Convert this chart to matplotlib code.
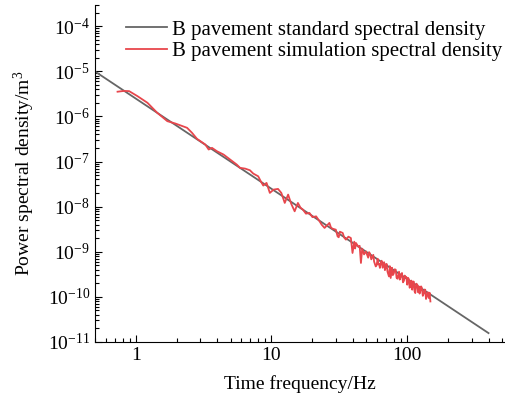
import matplotlib
matplotlib.use("Agg")
import matplotlib.pyplot as plt
from matplotlib.ticker import FuncFormatter
import numpy as np

plt.rcParams['font.family'] = ['Liberation Serif', 'DejaVu Serif']
plt.rcParams['mathtext.fontset'] = 'custom'
plt.rcParams['mathtext.rm'] = 'Liberation Serif'
plt.rcParams['mathtext.it'] = 'Liberation Serif:italic'

# standard spectral density (end points of straight line on log-log)
std_freq = [0.5, 400]
std_psd = [1.0e-5, 1.56e-11]

# simulated spectral density (frequency Hz, log10 PSD)
sim_freq = [0.734, 0.817, 0.893, 1.03, 1.22, 1.44, 1.71, 1.96, 2.39, 2.60,
            2.83, 3.26, 3.45, 3.65, 3.97, 4.19, 4.44, 4.97, 5.56, 5.88,
            6.40, 6.95, 7.36, 8.00, 8.38, 8.72, 9.22, 9.75, 10.4, 11.2,
            11.85, 12.56, 13.3, 14.0, 14.86, 15.7, 16.4, 17.1, 18.0, 19.1,
            20.1, 21.4, 22.7, 23.5, 24.7, 26.1, 26.8, 27.5, 28.2, 29.9,
            30.8, 31.4, 32.0, 33.6, 34.5, 35.5, 36.2, 37.0, 38.6, 39.7,
            40.9, 41.5, 42.1, 43.8, 44.8, 45.8, 46.8, 48.3, 49.8, 51.8,
            52.6, 53.5, 54.6, 55.8, 56.5, 57.3, 58.9, 59.8, 60.8, 61.5,
            62.3, 63.2, 64.1, 65.1, 66.2, 67.9, 68.8, 69.8, 70.8, 71.9,
            73.7, 74.8, 75.9, 77.6, 78.7, 79.9, 81.3, 82.7, 83.9, 85.2,
            87.5, 88.5, 89.6, 90.8, 92.0, 93.5, 95.1, 96.3, 97.5, 99.0,
            100.5, 102.0, 103.4, 104.7, 106.1, 107.7, 109.4, 111.0, 112.5, 113.9,
            115.3, 117.3, 119.4, 120.9, 122.4, 124.0, 125.6, 127.2, 128.8, 131.0,
            133.3, 134.9, 136.5, 138.3, 140.2, 142.6, 145.0, 147.0, 149.0]
sim_log_psd = [-5.45, -5.433, -5.437, -5.549, -5.696, -5.918, -6.104, -6.156, -6.251, -6.362,
               -6.496, -6.622, -6.733, -6.696, -6.771, -6.807, -6.844, -6.956, -7.067, -7.14,
               -7.156, -7.193, -7.267, -7.327, -7.444, -7.533, -7.473, -7.696, -7.622, -7.607,
               -7.696, -7.918, -7.733, -7.933, -8.104, -7.918, -8.022, -8.067, -8.156, -8.140,
               -8.233, -8.216, -8.327, -8.40, -8.473, -8.40, -8.362, -8.46, -8.489, -8.511,
               -8.660, -8.68, -8.556, -8.584, -8.689, -8.733, -8.70, -8.667, -8.696, -9.029,
               -8.778, -8.93, -8.807, -8.889, -8.87, -9.251, -8.933, -9.06, -8.993, -9.133,
               -9.01, -9.044, -9.17, -9.104, -9.07, -9.222, -9.327, -9.30, -9.156, -9.28,
               -9.267, -9.36, -9.251, -9.20, -9.356, -9.233, -9.41, -9.327, -9.27, -9.444,
               -9.549, -9.32, -9.584, -9.356, -9.52, -9.489, -9.39, -9.40, -9.58, -9.60,
               -9.444, -9.62, -9.578, -9.50, -9.473, -9.68, -9.644, -9.53, -9.556, -9.56,
               -9.733, -9.58, -9.611, -9.80, -9.778, -9.64, -9.844, -9.66, -9.667, -9.88,
               -9.918, -9.71, -9.733, -9.90, -9.771, -9.93, -9.867, -9.77, -9.80, -9.98,
               -9.918, -9.84, -9.844, -10.05, -9.978, -9.90, -10.029, -9.91, -10.104]

sim_psd = 10.0 ** np.array(sim_log_psd)

fig = plt.figure(figsize=(5.05, 4.05), dpi=100)
ax = fig.add_axes([0.188, 0.156, 0.81, 0.832])

ax.plot(std_freq, std_psd, color='#666666', lw=1.3,
        label='B pavement standard spectral density')
ax.plot(sim_freq, sim_psd, color='#e8464c', lw=1.3,
        label='B pavement simulation spectral density')

ax.set_xscale('log')
ax.set_yscale('log')
ax.set_xlim(0.5, 520)
ax.set_ylim(1e-11, 3e-4)

ax.xaxis.set_major_formatter(FuncFormatter(lambda v, p: '%g' % v))
ax.tick_params(which='both', direction='in', labelsize=14, width=0.8)
ax.tick_params(which='major', length=5)
ax.tick_params(which='minor', length=3)
ax.spines['top'].set_visible(False)
ax.spines['right'].set_visible(False)

ax.set_xlabel('Time frequency/Hz', fontsize=14, labelpad=8)
ax.set_ylabel('Power spectral density/m$^3$', fontsize=14, labelpad=8)

ax.legend(loc='upper left', bbox_to_anchor=(0.055, 0.98), frameon=False,
          fontsize=15, handlelength=2.0, handletextpad=0.2, labelspacing=0.1,
          borderaxespad=0.0)

fig.savefig('out.png', dpi=100)
